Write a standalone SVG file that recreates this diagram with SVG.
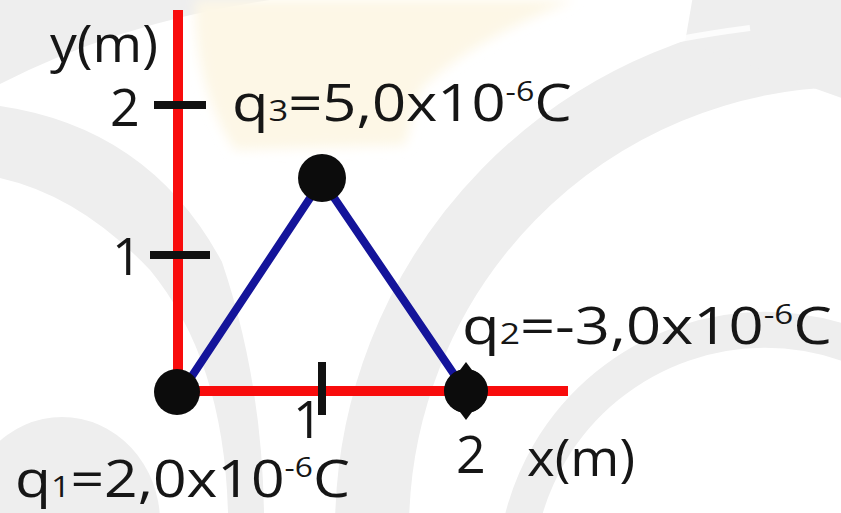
<svg xmlns="http://www.w3.org/2000/svg" width="841" height="513" viewBox="0 0 841 513">
<defs>
<style>
.gray{fill:#eeeeee}
.band{fill:none;stroke:#eeeeee}
.axis{stroke:#f80c0c;stroke-width:10;fill:none}
.tick{stroke:#111;stroke-width:8;fill:none}
.bond{stroke:#14149a;stroke-width:8;stroke-linecap:round;fill:none}
.charge{fill:#0c0c0c}
.t{font-family:"Open Sans","DejaVu Sans",sans-serif;font-weight:500;fill:#161616;font-size:52px}
.sub{font-size:30px}
.sup{font-size:28px}
</style>
<filter id="soft" x="-20%" y="-20%" width="140%" height="140%"><feGaussianBlur stdDeviation="6"/></filter>
</defs>
<rect width="841" height="513" fill="#ffffff"/>
<g id="background">
<path class="gray" d="M0 0 L270 0 Q120 22 0 84 Z"/>
<path fill="#fdf7e6" filter="url(#soft)" d="M195 0 L575 0 Q470 40 420 90 L405 145 L235 150 Q195 90 195 0 Z"/>
<path class="gray" d="M0 106 Q150 128 222 262 Q262 380 264 513 L228 513 Q224 360 150 270 Q80 196 0 178 Z"/>
<path class="band" stroke-width="74" d="M372 530 A480 480 0 0 1 841 50"/>
<path class="band" stroke-width="90" d="M700 0 L841 0 L841 50 Z"/>
<path fill="none" stroke="#ffffff" stroke-width="6" opacity="0.8" d="M750 28 Q580 50 488 102"/>
<path class="band" stroke-width="36" d="M520 530 A250 250 0 0 1 1010 530"/>
<ellipse class="gray" cx="62" cy="522" rx="98" ry="105"/>
</g>
<g id="connectors">
<line class="axis" x1="178" y1="10" x2="178" y2="392"/>
<line class="axis" x1="178" y1="391" x2="568" y2="391"/>
<line class="tick" x1="154" y1="105" x2="206" y2="105"/>
<line class="tick" x1="150" y1="255" x2="210" y2="255"/>
<line class="tick" x1="322" y1="362" x2="322" y2="415"/>
<line class="bond" x1="186" y1="385" x2="322" y2="180"/>
<line class="bond" x1="322" y1="180" x2="462" y2="386"/>
</g>
<g id="q1">
<circle class="charge" cx="177" cy="392" r="23"/>
<text class="t" x="15" y="497" textLength="335" lengthAdjust="spacingAndGlyphs">q<tspan class="sub">1</tspan>=2,0x10<tspan class="sup" dy="-20">-6</tspan><tspan dy="20">C</tspan></text>
</g>
<g id="q2">
<path class="charge" d="M466 362 L472 370 A22 22 0 0 1 472 412 L466 420 L460 412 A22 22 0 0 1 460 370 Z"/>
<circle class="charge" cx="466" cy="391" r="22"/>
<text class="t" x="462" y="344" textLength="370" lengthAdjust="spacingAndGlyphs">q<tspan class="sub">2</tspan>=-3,0x10<tspan class="sup" dy="-20">-6</tspan><tspan dy="20">C</tspan></text>
</g>
<g id="q3">
<circle class="charge" cx="322" cy="178" r="24"/>
<text class="t" x="232" y="121" textLength="340" lengthAdjust="spacingAndGlyphs">q<tspan class="sub">3</tspan>=5,0x10<tspan class="sup" dy="-20">-6</tspan><tspan dy="20">C</tspan></text>
</g>
<g id="labels">
<text class="t" x="50" y="62" textLength="108" lengthAdjust="spacingAndGlyphs">y(m)</text>
<text class="t" x="110" y="126">2</text>
<text class="t" x="112" y="275">1</text>
<text class="t" x="293" y="438">1</text>
<text class="t" x="456" y="473">2</text>
<text class="t" x="527" y="476" textLength="108" lengthAdjust="spacingAndGlyphs">x(m)</text>
</g>
</svg>
